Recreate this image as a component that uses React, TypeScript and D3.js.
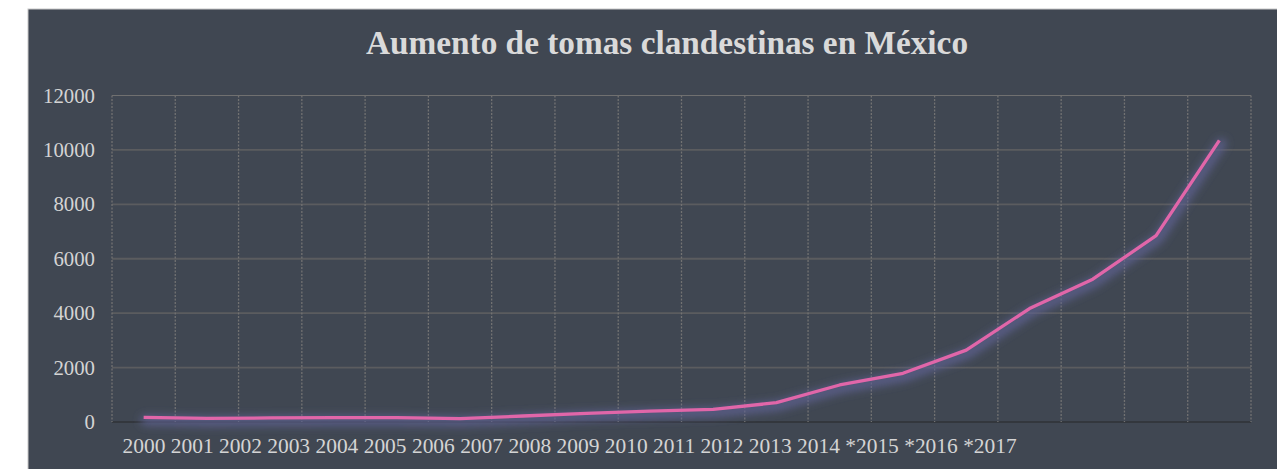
import React from "react";
import * as d3 from "d3";

const title = "Aumento de tomas clandestinas en México";
const categories = [
  "2000", "2001", "2002", "2003", "2004", "2005", "2006", "2007", "2008",
  "2009", "2010", "2011", "2012", "2013", "2014", "*2015", "*2016", "*2017",
];
const values = [
  170, 130, 150, 158, 158, 125, 220, 320, 400, 465, 710, 1360, 1790, 2640,
  4170, 5250, 6850, 10350,
];
const yTicks = [0, 2000, 4000, 6000, 8000, 10000, 12000];

const W = 1277;
const H = 469;
const plot = { left: 112, right: 1251, top: 95.5, bottom: 422 };

export default function App() {
  const x = d3
    .scaleBand<string>()
    .domain(categories)
    .range([plot.left, plot.right])
    .padding(0);
  const y = d3.scaleLinear().domain([0, 12000]).range([plot.bottom, plot.top]);
  const cx = (c: string) => (x(c) as number) + x.bandwidth() / 2;
  const pts = categories.map((c, i) => [cx(c), y(values[i])] as [number, number]);
  const line = d3.line<[number, number]>()(pts) as string;
  const boundaries = d3.range(categories.length + 1).map((i) => plot.left + i * x.bandwidth());

  return (
    <div style={{ position: "absolute", left: 0, top: 0 }}>
      <svg width={W} height={H} style={{ display: "block" }}>
        <defs>
          <filter id="glow" x="-20%" y="-20%" width="140%" height="140%">
            <feGaussianBlur stdDeviation="4" />
          </filter>
        </defs>
        <rect x={0} y={0} width={W} height={H} fill="#ffffff" />
        <rect x={28} y={9} width={W} height={H} fill="#404752" stroke="#c8c8c8" strokeWidth={1} />
        <text
          x={667}
          y={54}
          textAnchor="middle"
          fontFamily="'Liberation Serif', 'Times New Roman', serif"
          fontWeight="bold"
          fontSize={33.3}
          fill="#dadada"
        >
          {title}
        </text>
        {/* horizontal gridlines */}
        {yTicks.map((t) => (
          <line
            key={"h" + t}
            x1={plot.left}
            x2={plot.right}
            y1={y(t)}
            y2={y(t)}
            stroke={t === 0 ? "#33373d" : t === 12000 ? "#707070" : "#5b5c5f"}
            strokeWidth={t === 12000 ? 1.2 : 1.8}
          />
        ))}
        {/* vertical dashed gridlines */}
        {boundaries.map((bx, i) => (
          <line
            key={"v" + i}
            x1={bx}
            x2={bx}
            y1={plot.top}
            y2={plot.bottom}
            stroke="#727272"
            strokeWidth={1.3}
            strokeDasharray="2 1.5"
          />
        ))}
        {/* y tick labels */}
        {yTicks.map((t) => (
          <text
            key={"yl" + t}
            x={95}
            y={y(t) + 7}
            textAnchor="end"
            fontFamily="'Liberation Serif', 'Times New Roman', serif"
            fontSize={20.8}
            fill="#d4d4d4"
          >
            {t}
          </text>
        ))}
        {/* x labels (rendered compressed as in the original) */}
        <text
          x={122.5}
          y={453}
          fontFamily="'Liberation Serif', 'Times New Roman', serif"
          fontSize={21.45}
          fill="#d4d4d4"
        >
          {categories.join(" ")}
        </text>
        {/* glow */}
        <path
          d={line}
          transform="translate(2,3)"
          fill="none"
          stroke="#5e6090"
          strokeWidth={10}
          strokeOpacity={0.85}
          strokeLinejoin="round"
          strokeLinecap="round"
          filter="url(#glow)"
        />
        <path d={line} fill="none" stroke="#e166a9" strokeWidth={3.3} strokeLinejoin="round" />
      </svg>
    </div>
  );
}
